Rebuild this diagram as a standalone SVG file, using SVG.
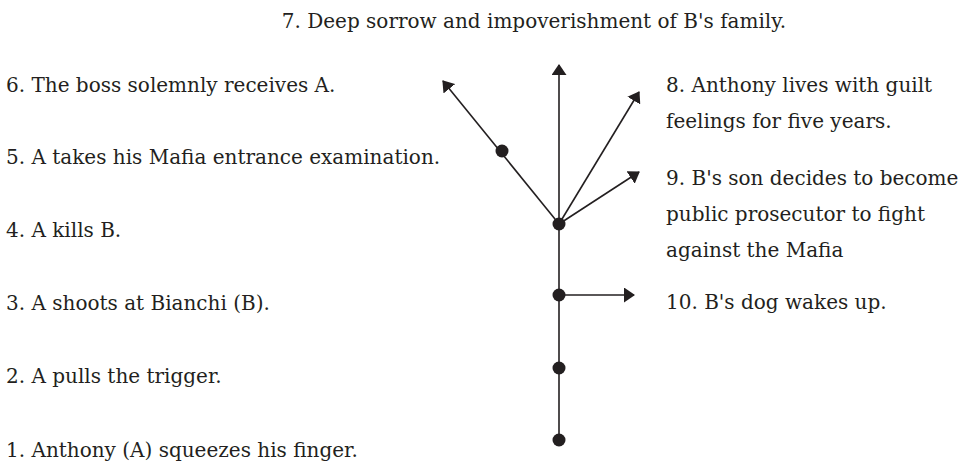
<svg xmlns="http://www.w3.org/2000/svg" width="969" height="465" viewBox="0 0 969 465">
<style>
text{font-family:"DejaVu Serif","Liberation Serif",serif;font-size:20px;fill:#231f20}
.ln{stroke:#231f20;stroke-width:1.6;fill:none}
.dot{fill:#231f20}
</style>
<defs>
<marker id="ah" viewBox="0 0 11 15" refX="10" refY="7.5" markerWidth="11" markerHeight="15" markerUnits="userSpaceOnUse" orient="auto"><path d="M0,0 L11,7.5 L0,15 z" fill="#231f20"/></marker>
</defs>
<rect width="969" height="465" fill="#fff"/>
<g id="connectors">
<line class="ln" x1="559" y1="440" x2="559" y2="224"/>
<line class="ln" x1="559" y1="224" x2="559" y2="65" marker-end="url(#ah)"/>
<line class="ln" x1="559" y1="224" x2="443" y2="81" marker-end="url(#ah)"/>
<line class="ln" x1="559" y1="224" x2="639" y2="92" marker-end="url(#ah)"/>
<line class="ln" x1="559" y1="224" x2="639" y2="172" marker-end="url(#ah)"/>
<line class="ln" x1="559" y1="295" x2="634" y2="295" marker-end="url(#ah)"/>
</g>
<g id="n1"><circle class="dot" cx="559" cy="440" r="6.5"/><text x="6" y="457">1. Anthony (A) squeezes his finger.</text></g>
<g id="n2"><circle class="dot" cx="559" cy="368" r="6.5"/><text x="6" y="383">2. A pulls the trigger.</text></g>
<g id="n3"><circle class="dot" cx="559" cy="295" r="6.5"/><text x="6" y="310">3. A shoots at Bianchi (B).</text></g>
<g id="n4"><circle class="dot" cx="559" cy="224" r="6.5"/><text x="6" y="237">4. A kills B.</text></g>
<g id="n5"><circle class="dot" cx="502" cy="151" r="6.5"/><text x="6" y="164">5. A takes his Mafia entrance examination.</text></g>
<g id="n6"><text x="6" y="92">6. The boss solemnly receives A.</text></g>
<g id="n7"><text x="534" y="28" text-anchor="middle">7. Deep sorrow and impoverishment of B's family.</text></g>
<g id="n8"><text x="666" y="92">8. Anthony lives with guilt</text><text x="666" y="128">feelings for five years.</text></g>
<g id="n9"><text x="666" y="185">9. B's son decides to become</text><text x="666" y="221">public prosecutor to fight</text><text x="666" y="257">against the Mafia</text></g>
<g id="n10"><text x="666" y="309">10. B's dog wakes up.</text></g>
</svg>
